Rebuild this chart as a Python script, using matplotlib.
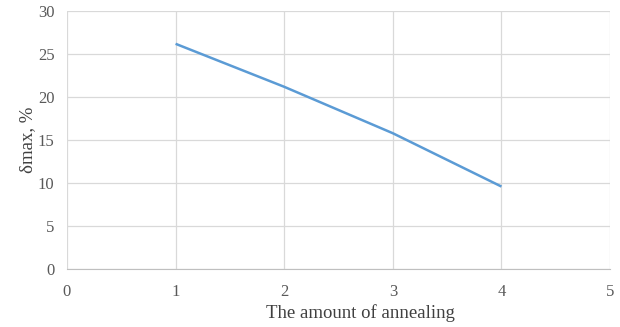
import matplotlib
matplotlib.use("Agg")
import matplotlib.pyplot as plt

# annealing count vs maximum elongation
annealing = [1, 2, 3, 4]
delta_max = [26.2, 21.2, 15.8, 9.6]

x_ticks = [0, 1, 2, 3, 4, 5]
y_ticks = [0, 5, 10, 15, 20, 25, 30]

plt.rcParams['font.family'] = ['Liberation Serif', 'DejaVu Serif']

fig = plt.figure(figsize=(6.2, 3.27), dpi=100)
ax = fig.add_axes([0.108, 0.177, 0.876, 0.789])

ax.plot(annealing, delta_max, color='#5B9BD5', lw=1.8, solid_capstyle='butt')

ax.set_xlim(0, 5)
ax.set_ylim(0, 30)
ax.set_xticks(x_ticks)
ax.set_yticks(y_ticks)
ax.grid(True, color='#D9D9D9', lw=0.9)
ax.set_axisbelow(True)
for side in ['left', 'right', 'top']:
    ax.spines[side].set_visible(False)
ax.spines['bottom'].set_color('#BFBFBF')
ax.tick_params(axis='x', length=0, labelsize=12, colors='#595959', pad=11)
ax.tick_params(axis='y', length=0, labelsize=12, colors='#595959', pad=9)

ax.set_xlabel("The amount of annealing", fontsize=13.5, color='#404040')
ax.xaxis.set_label_coords(0.54, -0.135)
ax.set_ylabel("δmax, %", fontsize=13.5, color='#404040', labelpad=1)

fig.savefig("out.png", dpi=100)
